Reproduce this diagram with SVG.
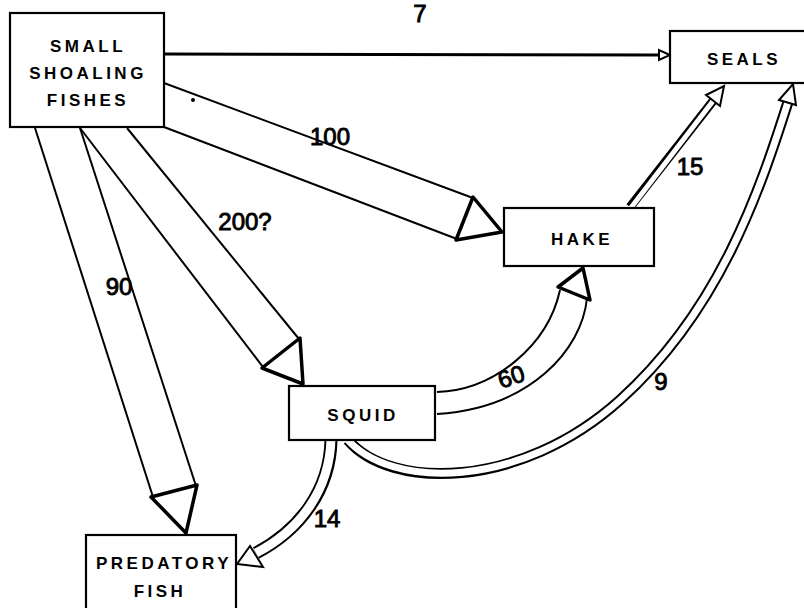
<svg xmlns="http://www.w3.org/2000/svg" width="804" height="608" viewBox="0 0 804 608">
<style>
.box{fill:#fff;stroke:#000;stroke-width:2.2}
.bl{font-family:"Liberation Sans",Arial,sans-serif;font-weight:bold;font-size:17px;letter-spacing:3.5px;text-anchor:middle;fill:#000}
.num{font-family:"Liberation Sans",Arial,sans-serif;font-size:24px;text-anchor:middle;fill:#000;stroke:#000;stroke-width:0.9}
.band{fill:none;stroke:#000;stroke-width:2}
.head{fill:#fff;stroke:#000;stroke-width:3.5;stroke-linejoin:round}
.dblo{fill:none;stroke:#000}
.dbli{fill:none;stroke:#fff}
.thead{fill:#fff;stroke:#000;stroke-width:2;stroke-linejoin:miter}
</style>
<rect width="804" height="608" fill="#fff"/>
<g id="connectors">
  <!-- 7 -->
  <line x1="164" y1="54" x2="659" y2="55" stroke="#000" stroke-width="3"/>
  <polygon class="thead" points="659,50 659,60 670,55" stroke-width="1.5"/>
  <!-- 100 -->
  <line class="band" x1="164" y1="83" x2="473" y2="198"/>
  <line class="band" x1="164" y1="127" x2="457" y2="239"/>
  <polygon class="head" points="473,197 456,240 502,232"/>
  <!-- 200? -->
  <line class="band" x1="80" y1="128" x2="263" y2="367"/>
  <line class="band" x1="127" y1="128" x2="299" y2="339"/>
  <polygon class="head" points="262,368 300,338 303,384"/>
  <!-- 90 -->
  <line class="band" x1="35" y1="128" x2="153" y2="497"/>
  <line class="band" x1="80" y1="128" x2="196" y2="486"/>
  <polygon class="head" points="151,497 197,485 186,533"/>
  <!-- 60 -->
  <path class="band" d="M437,392 C495,390 548,345 560,290"/>
  <path class="band" d="M437,414 C530,408 582,350 587,298"/>
  <polygon class="head" stroke-width="3" points="558,287 590,300 583,268"/>
  <!-- 15 -->
  <path class="dblo" stroke-width="9" d="M630,207 L713,101"/>
  <path class="dbli" stroke-width="5" d="M630,209 L713,101"/>
  <polygon class="thead" points="706,95 720,106 724,86"/>
  <!-- 9 -->
  <path class="dblo" stroke-width="11" d="M348,440 C390,490 520,490 620,400 S760,190 788,102"/>
  <path class="dbli" stroke-width="7" d="M346,438 C390,490 520,490 620,400 S760,190 788,102"/>
  <polygon class="thead" points="779,100 796,105 793,84"/>
  <!-- 14 -->
  <path class="dblo" stroke-width="13" d="M331,440 C330,490 300,530 256,553"/>
  <path class="dbli" stroke-width="9" d="M331,438 C330,490 300,530 256,553"/>
  <polygon class="thead" points="237,564 250,546 263,567"/>
  <circle cx="193" cy="100" r="2" fill="#000"/>
</g>
<g id="small-shoaling-fishes">
  <rect class="box" x="10" y="13" width="154" height="114"/>
  <text class="bl" x="88" y="52" letter-spacing="3px">SMALL</text>
  <text class="bl" x="88" y="79" letter-spacing="2.5px">SHOALING</text>
  <text class="bl" x="88" y="106">FISHES</text>
</g>
<g id="seals">
  <rect class="box" x="670" y="31" width="140" height="52"/>
  <text class="bl" x="744" y="65">SEALS</text>
</g>
<g id="hake">
  <rect class="box" x="504" y="208" width="150" height="58"/>
  <text class="bl" x="582" y="245" letter-spacing="3px">HAKE</text>
</g>
<g id="squid">
  <rect class="box" x="289" y="386" width="146" height="54"/>
  <text class="bl" x="363" y="421">SQUID</text>
</g>
<g id="predatory-fish">
  <rect class="box" x="86" y="535" width="150" height="90"/>
  <text class="bl" x="164" y="569" letter-spacing="4px">PREDATORY</text>
  <text class="bl" x="160" y="597">FISH</text>
</g>
<g id="labels">
  <text class="num" x="420" y="22">7</text>
  <text class="num" x="330" y="145">100</text>
  <text class="num" x="245" y="230">200?</text>
  <text class="num" x="119" y="295">90</text>
  <text class="num" x="690" y="175">15</text>
  <text class="num" x="511" y="385" transform="rotate(-18 511 376)">60</text>
  <text class="num" x="661" y="390">9</text>
  <text class="num" x="327" y="527">14</text>
</g>
</svg>
